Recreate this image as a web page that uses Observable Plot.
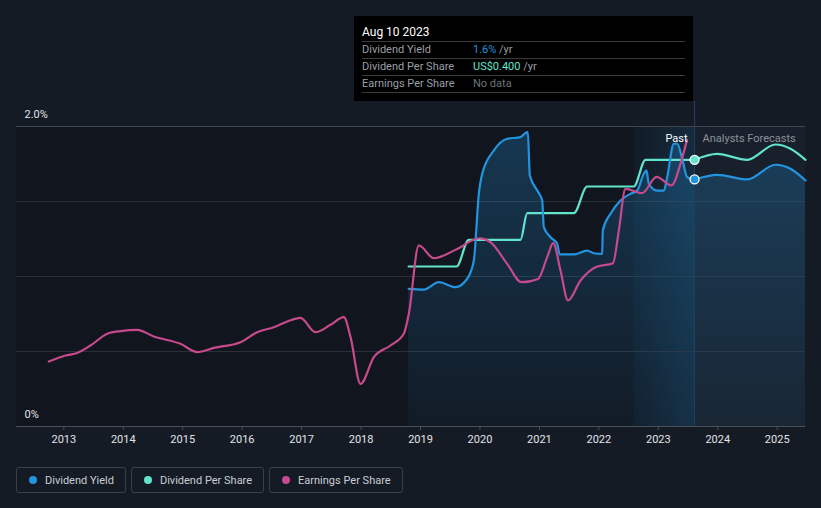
<!DOCTYPE html>
<html><head><meta charset="utf-8">
<script src="https://cdn.jsdelivr.net/npm/d3@7"></script>
<script src="https://cdn.jsdelivr.net/npm/@observablehq/plot@0.6"></script>
<style>
html,body{margin:0;padding:0;background:#151b25;}
body{width:821px;height:508px;position:relative;overflow:hidden;font-family:Roboto,"Noto Sans",sans-serif;}
#chart{position:absolute;left:0;top:0;}
#tip{position:absolute;left:354px;top:16px;width:339px;height:85px;background:#000;box-sizing:border-box;padding:7px 8px 0 8px;}
#tip .t{height:18px;line-height:18px;font-size:12px;color:#fff;border-bottom:1px solid #3a3a3a;}
#tip .r{height:16px;line-height:16px;font-size:11px;border-bottom:1px solid #3a3a3a;display:flex;}
#tip .l{width:111px;color:#9a9ea4;}
#tip .u{color:#9a9ea4;}
#legend{position:absolute;left:16px;top:467px;display:flex;gap:5px;}
#legend .b{height:26px;box-sizing:border-box;border:1px solid #3a3f48;border-radius:3px;display:flex;align-items:center;padding:0 11px 0 12px;font-size:11px;color:#c9cdd3;}
#legend .d{width:8px;height:8px;border-radius:50%;margin-right:8px;}
</style></head>
<body>
<div id="chart"></div>
<div id="tip"></div>
<div id="legend"></div>
<script>
// ---- data ----
const xTicks = [2013,2014,2015,2016,2017,2018,2019,2020,2021,2022,2023,2024,2025];
const yLabels = [[2.0,"2.0%"],[0,"0%"]];
const gridValues = [0.5,1.0,1.5];
const nowYear = 2023.61;        // Aug 10 2023
const lastYearStart = 2022.59;
const xDomain = [2012.204, 2025.476];

// Dividend yield (%)
const yieldPast = [[2018.80,0.918],[2019.055,0.913],[2019.308,0.962],[2019.589,0.929],[2019.785,0.985],[2019.897,1.107],[2019.981,1.551],[2020.038,1.685],[2020.233,1.84],[2020.458,1.918],[2020.682,1.929],[2020.749,1.951],[2020.805,1.962],[2020.839,1.673],[2020.963,1.573],[2021.047,1.507],[2021.074,1.329],[2021.187,1.262],[2021.299,1.218],[2021.343,1.147],[2021.579,1.147],[2021.804,1.173],[2021.915,1.155],[2022.056,1.151],[2022.066,1.307],[2022.196,1.418],[2022.364,1.507],[2022.532,1.551],[2022.645,1.573],[2022.756,1.685],[2022.801,1.707],[2022.840,1.618],[2022.981,1.573],[2023.093,1.573],[2023.150,1.662],[2023.261,1.885],[2023.318,1.885],[2023.402,1.785],[2023.486,1.662],[2023.61,1.647]];
const yieldForecast = [[2023.61,1.647],[2023.99,1.678],[2024.495,1.647],[2024.971,1.745],[2025.223,1.718],[2025.476,1.64]];

// Dividend per share (US$)
const dpsPast = [[2018.80,0.24],[2019.606,0.24],[2019.812,0.28],[2020.682,0.28],[2020.795,0.32],[2021.579,0.32],[2021.804,0.36],[2022.588,0.36],[2022.785,0.40],[2023.61,0.40]];
const dpsForecast = [[2023.61,0.40],[2023.99,0.409],[2024.495,0.40],[2024.971,0.423],[2025.223,0.4166],[2025.476,0.40]];
const dpsAxisMax = 0.45;   // DPS value drawn at the 2.0% line

// Earnings per share (relative to the chart axis)
const epsPast = [[2012.748,0.433],[2013.029,0.473],[2013.225,0.49],[2013.449,0.54],[2013.730,0.618],[2013.954,0.636],[2014.235,0.644],[2014.514,0.60],[2014.963,0.551],[2015.244,0.496],[2015.523,0.524],[2015.972,0.562],[2016.253,0.629],[2016.532,0.662],[2016.758,0.70],[2016.981,0.724],[2017.234,0.629],[2017.486,0.678],[2017.710,0.729],[2017.823,0.596],[2017.991,0.284],[2018.215,0.462],[2018.495,0.54],[2018.719,0.618],[2018.803,0.751],[2018.971,1.207],[2019.224,1.122],[2019.617,1.184],[2019.992,1.255],[2020.177,1.229],[2020.458,1.084],[2020.699,0.962],[2020.976,0.984],[2021.131,1.129],[2021.232,1.222],[2021.355,1.04],[2021.481,0.84],[2021.691,0.973],[2021.944,1.062],[2022.238,1.089],[2022.336,1.307],[2022.448,1.584],[2022.729,1.556],[2022.970,1.664],[2023.222,1.607],[2023.373,1.751],[2023.483,1.911]];

const C = {yield:"#2394df", dps:"#62e3cc", eps:"#c64a8c"};

// ---- plot ----
const toDps = d => ({x:d[0], y:d[1]/dpsAxisMax*2});
const toXY = d => ({x:d[0], y:d[1]});
const yieldAll = yieldPast.concat(yieldForecast.slice(1)).map(toXY);
const yTopExt = 2 + 25/150;

const svg = Plot.plot({
  width: 821, height: 455,
  marginLeft: 16, marginRight: 16, marginTop: 126, marginBottom: 29,
  style: {background:"transparent", color:"#e2e4e8", fontFamily:"Roboto, 'Noto Sans', sans-serif", fontSize:"11px", overflow:"visible"},
  x: {domain: xDomain, axis: null},
  y: {domain: [0, 2], axis: null},
  marks: [
    Plot.rect([{a:xDomain[0], b:lastYearStart}], {x1:"a", x2:"b", y1:0, y2:2, fill:"#11151d"}),
    Plot.rect([{a:lastYearStart, b:nowYear}], {x1:"a", x2:"b", y1:0, y2:2, fill:"#121821"}),
    Plot.rect([{a:lastYearStart, b:nowYear}], {x1:"a", x2:"b", y1:0, y2:2, fill:"url(#hl)"}),
    Plot.rect([{a:nowYear, b:xDomain[1]}], {x1:"a", x2:"b", y1:0, y2:2, fill:"#18202b"}),
    Plot.ruleY(gridValues, {stroke:"#2a3039", strokeWidth:1}),
    Plot.ruleY([2], {stroke:"#41464e", strokeWidth:1}),
    Plot.areaY(yieldAll, {x:"x", y:"y", fill:"url(#yg)", curve:"monotone-x"}),
    Plot.ruleY([0], {stroke:"#4a4f57", strokeWidth:1}),
    Plot.ruleX([nowYear], {y1:0, y2:yTopExt, stroke:"#23415c", strokeWidth:1}),
    Plot.line(dpsPast.map(toDps), {x:"x", y:"y", stroke:C.dps, strokeWidth:2.2, curve:"monotone-x"}),
    Plot.line(dpsForecast.map(toDps), {x:"x", y:"y", stroke:C.dps, strokeWidth:2.2, curve:"monotone-x"}),
    Plot.line(yieldPast.map(toXY), {x:"x", y:"y", stroke:C.yield, strokeWidth:2.2, curve:"monotone-x"}),
    Plot.line(yieldForecast.map(toXY), {x:"x", y:"y", stroke:C.yield, strokeWidth:2.2, curve:"monotone-x"}),
    Plot.line(epsPast.map(toXY), {x:"x", y:"y", stroke:C.eps, strokeWidth:2.2, curve:"monotone-x"}),
    Plot.dot([toDps(dpsPast[dpsPast.length-1])], {x:"x", y:"y", r:4.5, fill:C.dps, stroke:"#fff", strokeWidth:1.3}),
    Plot.dot([toXY(yieldPast[yieldPast.length-1])], {x:"x", y:"y", r:4.5, fill:C.yield, stroke:"#fff", strokeWidth:1.3}),
    Plot.text(["Past"], {x:()=>nowYear, frameAnchor:"top", dx:-7, dy:8, textAnchor:"end", fill:"#ffffff", fontSize:11}),
    Plot.text(["Analysts Forecasts"], {x:()=>nowYear, frameAnchor:"top", dx:8, dy:8, textAnchor:"start", fill:"#8c9099", fontSize:11}),
    Plot.text(yLabels, {x:()=>xDomain[0], y:d=>d[0], text:d=>d[1], dx:8, dy:-12, textAnchor:"start", fill:"#e2e4e8", fontSize:11}),
    Plot.axisX(xTicks, {tickFormat:"d", tickSize:4, tickPadding:5, stroke:"#4a4f57", color:"#e2e4e8", fontSize:11})
  ]
});

const defs = d3.select(svg).insert("defs", ":first-child");
const g1 = defs.append("linearGradient").attr("id","yg").attr("x1",0).attr("y1",0).attr("x2",0).attr("y2",1);
g1.append("stop").attr("offset","0%").attr("stop-color",C.yield).attr("stop-opacity",0.27);
g1.append("stop").attr("offset","100%").attr("stop-color",C.yield).attr("stop-opacity",0.05);
const g2 = defs.append("linearGradient").attr("id","hl").attr("x1",0).attr("y1",0).attr("x2",1).attr("y2",0);
g2.append("stop").attr("offset","0%").attr("stop-color",C.yield).attr("stop-opacity",0.02);
g2.append("stop").attr("offset","100%").attr("stop-color",C.yield).attr("stop-opacity",0.16);
document.getElementById("chart").appendChild(svg);

// ---- tooltip ----
const tipRows = [
  ["Dividend Yield", "1.6%", C.yield, " /yr"],
  ["Dividend Per Share", "US$0.400", C.dps, " /yr"],
  ["Earnings Per Share", "No data", "#6f737a", ""]
];
const tip = d3.select("#tip");
tip.append("div").attr("class","t").text("Aug 10 2023");
for (const [label, val, col, unit] of tipRows) {
  const r = tip.append("div").attr("class","r");
  r.append("span").attr("class","l").text(label);
  r.append("span").style("color", col).text(val);
  if (unit) r.append("span").attr("class","u").html("&nbsp;" + unit.trim());
}

// ---- legend ----
const legendItems = [["Dividend Yield", C.yield], ["Dividend Per Share", C.dps], ["Earnings Per Share", C.eps]];
const lg = d3.select("#legend");
for (const [name, col] of legendItems) {
  const b = lg.append("div").attr("class","b");
  b.append("span").attr("class","d").style("background", col);
  b.append("span").text(name);
}
</script>
</body></html>
